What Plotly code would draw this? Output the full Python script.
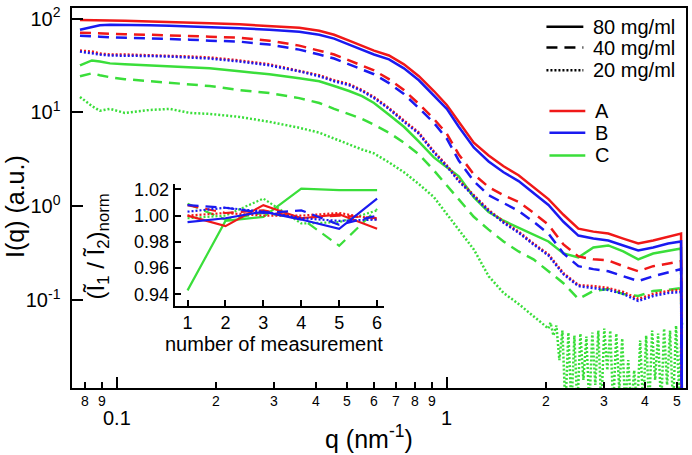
import math
import plotly.graph_objects as go

# scattering vector q (nm^-1), shared grid for the smooth curves
q = [0.0773, 0.0840, 0.0888, 0.0953, 0.1057, 0.1258, 0.1446, 0.1662, 0.1910, 0.2352,
     0.2899, 0.3571, 0.4106, 0.4556, 0.5057, 0.5535, 0.6017, 0.6680, 0.7414, 0.8230,
     0.9136, 1.000, 1.087, 1.207, 1.339, 1.486, 1.650, 1.831, 2.033, 2.257,
     2.505, 2.781, 3.086, 3.426, 3.803, 4.221, 4.685, 5.129, 5.16]

# I(q) for samples A, B, C at 80 / 40 / 20 mg/ml
A_80 = [96.9, 96.9, 96.9, 95.7, 94.6, 93.4, 92.3, 91.2, 89.0, 86.9, 83.7, 79.8, 74.2, 67.3, 58.2,
        51.5, 45.6, 40.4, 32.5, 24.3, 16.9, 12.0, 7.93, 4.76, 3.47, 2.66, 2.14, 1.60, 1.19, 0.81,
        0.575, 0.535, 0.51, 0.451, 0.40, 0.43, 0.474, 0.51, 0.006]
B_80 = [76.0, 81.7, 84.8, 85.8, 85.8, 84.8, 83.7, 82.7, 80.7, 78.8, 76.0, 72.4, 67.3, 61.1, 52.8,
        46.7, 41.4, 36.7, 29.5, 22.0, 15.3, 10.9, 7.02, 4.22, 3.00, 2.30, 1.85, 1.38, 1.03, 0.682,
        0.486, 0.451, 0.43, 0.381, 0.337, 0.363, 0.40, 0.42, 0.006]
C_80 = [31.7, 35.8, 34.9, 33.3, 32.5, 31.7, 30.9, 30.2, 29.5, 27.4, 25.5, 23.1, 21.5, 19.1, 16.9,
        14.9, 12.6, 9.41, 7.02, 4.88, 3.31, 2.60, 2.08, 1.25, 0.869, 0.699, 0.589, 0.498, 0.42, 0.313,
        0.284, 0.363, 0.381, 0.329, 0.271, 0.313, 0.337, 0.354, 0.006]
A_40 = [70.7, 69.8, 68.9, 68.9, 68.1, 67.3, 66.5, 65.7, 64.1, 62.6, 58.2, 51.5, 45.6, 41.4, 35.8,
        31.7, 28.0, 22.6, 17.3, 12.3, 8.53, 5.93, 3.56, 2.19, 1.60, 1.31, 1.11, 0.849, 0.634, 0.391,
        0.291, 0.271, 0.264, 0.229, 0.202, 0.229, 0.246, 0.258, 0.006]
B_40 = [65.7, 64.1, 64.1, 63.3, 62.6, 61.8, 61.1, 59.6, 58.2, 56.8, 52.8, 46.7, 41.4, 37.5, 32.5,
        28.7, 25.5, 20.5, 15.7, 11.1, 7.74, 5.25, 3.07, 1.85, 1.31, 1.08, 0.891, 0.682, 0.51, 0.313,
        0.229, 0.213, 0.202, 0.179, 0.159, 0.179, 0.197, 0.213, 0.006]
C_40 = [24.3, 26.1, 24.9, 23.7, 22.6, 21.5, 20.5, 20.0, 19.1, 17.3, 16.1, 14.2, 12.6, 10.9, 9.63,
        8.53, 7.37, 6.07, 4.76, 3.56, 2.41, 1.675, 1.19, 0.77, 0.562, 0.42, 0.329, 0.271, 0.202, 0.151,
        0.1025, 0.1245, 0.131, 0.1158, 0.1103, 0.1245, 0.128, 0.134, 0.006]
A_20 = [45.6, 44.5, 42.4, 41.4, 41.4, 40.9, 40.4, 39.4, 38.5, 35.8, 32.5, 28.0, 24.9, 22.0, 20.0,
        17.3, 14.6, 11.1, 8.12, 6.07, 3.83, 2.72, 1.89, 1.31, 0.913, 0.682, 0.535, 0.40, 0.306, 0.193,
        0.144, 0.1405, 0.134, 0.1215, 0.1025, 0.1158, 0.1245, 0.128, 0.006]
B_20 = [44.5, 42.4, 41.4, 40.4, 40.4, 39.9, 39.4, 38.5, 37.5, 34.9, 31.7, 27.4, 24.3, 21.5, 19.5,
        16.9, 14.2, 10.9, 7.93, 5.93, 3.74, 2.66, 1.85, 1.28, 0.891, 0.666, 0.522, 0.391, 0.298, 0.188,
        0.1405, 0.134, 0.128, 0.1158, 0.0976, 0.1103, 0.1187, 0.1215, 0.006]

# C at 20 mg/ml is very noisy at high q, it gets its own denser tail
q_C20_tail = [2.062, 2.105, 2.149, 2.194, 2.241, 2.288, 2.336, 2.386, 2.436, 2.488, 2.540, 2.594,
              2.649, 2.704, 2.761, 2.819, 2.879, 2.940, 3.001, 3.065, 3.129, 3.195, 3.263, 3.332,
              3.402, 3.474, 3.547, 3.622, 3.698, 3.776, 3.856, 3.937, 4.020, 4.105, 4.191, 4.280,
              4.370, 4.462, 4.556, 4.652, 4.750, 4.850, 4.953, 5.057, 5.164]
C_20_head = [14.6, 11.7, 10.4, 10.9, 9.87, 10.6, 10.9, 9.87, 9.63, 8.95, 7.93, 6.86, 6.07, 5.25, 4.54,
             4.02, 3.65, 2.93, 2.30, 1.72, 1.25, 0.829, 0.562, 0.346, 0.179, 0.1187, 0.0907, 0.0678, 0.0495]
C_20_tail = [0.0572, 0.0417, 0.0532, 0.0228, 0.0471, 0.007, 0.0449, 0.007, 0.0417, 0.007,
             0.0438, 0.014, 0.0407, 0.007, 0.0449, 0.0124, 0.0471, 0.007, 0.0495, 0.0178,
             0.0471, 0.007, 0.0438, 0.011, 0.0388, 0.007, 0.0228, 0.007, 0.0178, 0.007,
             0.037, 0.007, 0.0417, 0.007, 0.0471, 0.014, 0.0438, 0.007, 0.0495, 0.0124,
             0.0471, 0.007, 0.0532, 0.011, 0.0572]

# inset: normalised ratio vs number of measurement
n_meas = [1, 2, 3, 4, 5, 6]
r_A_80 = [1.000, 0.992, 1.008, 0.998, 1.001, 0.990]
r_A_40 = [1.008, 1.002, 1.004, 0.998, 1.000, 0.998]
r_A_20 = [1.000, 1.002, 1.000, 1.000, 1.002, 0.997]
r_B_80 = [0.995, 0.998, 1.003, 0.997, 0.990, 1.013]
r_B_40 = [1.008, 1.006, 1.002, 1.004, 0.993, 1.000]
r_B_20 = [1.003, 1.006, 1.003, 0.998, 0.996, 0.997]
r_C_80 = [0.943, 0.996, 0.999, 1.0205, 1.0195, 1.0195]
r_C_40 = [1.009, 0.997, 1.002, 0.998, 0.977, 1.005]
r_C_20 = [0.998, 1.000, 1.013, 0.994, 0.995, 1.004]

x_major_vals = [0.1, 1]
x_major_text = ['0.1', '1']
x_minor_vals = [0.08, 0.09, 0.2, 0.3, 0.4, 0.5, 0.6, 0.7, 0.8, 0.9, 2, 3, 4, 5]
x_minor_text = ['8', '9', '2', '3', '4', '5', '6', '7', '8', '9', '2', '3', '4', '5']

conc_names = ['80 mg/ml', '40 mg/ml', '20 mg/ml']
sample_names = ['A', 'B', 'C']

RED = '#f01818'
BLUE = '#1a1af0'
GREEN = '#3ade3a'
DASH = {'80 mg/ml': 'solid', '40 mg/ml': '11px,7px', '20 mg/ml': '2px,2px'}
COLOR = {'A': RED, 'B': BLUE, 'C': GREEN}
FONT = 'Liberation Sans, Arial, sans-serif'

fig = go.Figure()

# main curves, green first so red/blue sit on top
main = [
    (q, C_80, 'C', '80 mg/ml'), (q, C_40, 'C', '40 mg/ml'),
    (q[:29] + q_C20_tail, C_20_head + C_20_tail, 'C', '20 mg/ml'),
    (q, A_80, 'A', '80 mg/ml'), (q, A_40, 'A', '40 mg/ml'), (q, A_20, 'A', '20 mg/ml'),
    (q, B_80, 'B', '80 mg/ml'), (q, B_40, 'B', '40 mg/ml'), (q, B_20, 'B', '20 mg/ml'),
]
for xs, ys, s, conc in main:
    fig.add_trace(go.Scatter(x=xs, y=ys, mode='lines', showlegend=False, hoverinfo='skip',
                             line=dict(color=COLOR[s], width=2.5, dash=DASH[conc])))

inset = [
    (r_C_80, 'C', '80 mg/ml'), (r_C_40, 'C', '40 mg/ml'), (r_C_20, 'C', '20 mg/ml'),
    (r_A_80, 'A', '80 mg/ml'), (r_A_40, 'A', '40 mg/ml'), (r_A_20, 'A', '20 mg/ml'),
    (r_B_80, 'B', '80 mg/ml'), (r_B_40, 'B', '40 mg/ml'), (r_B_20, 'B', '20 mg/ml'),
]
for ys, s, conc in inset:
    fig.add_trace(go.Scatter(x=n_meas, y=ys, xaxis='x2', yaxis='y2', mode='lines',
                             showlegend=False, hoverinfo='skip',
                             line=dict(color=COLOR[s], width=2.2, dash=DASH[conc])))

# x labels: small digits under minor ticks, larger decade labels further down
# (log axis -> annotation x is given in log10 units)
annotations = []
for v, t in zip(x_minor_vals, x_minor_text):
    annotations.append(dict(text=t, xref='x', yref='paper', x=math.log10(v), y=-0.034,
                            xanchor='center', yanchor='middle', showarrow=False,
                            font=dict(size=14)))
for v, t in zip(x_major_vals, x_major_text):
    annotations.append(dict(text=t, xref='x', yref='paper', x=math.log10(v), y=-0.078,
                            xanchor='center', yanchor='middle', showarrow=False,
                            font=dict(size=20)))

annotations += [
    dict(text='I(q) (a.u.)', xref='paper', yref='paper', x=-0.094, y=0.477,
         xanchor='center', yanchor='middle', textangle=-90, showarrow=False,
         font=dict(size=25)),
    dict(text='q (nm<sup>-1</sup>)', xref='paper', yref='paper', x=0.484, y=-0.13,
         xanchor='center', yanchor='middle', showarrow=False, font=dict(size=25)),
    dict(text='number of measurement', xref='paper', yref='paper', x=0.3295, y=0.115,
         xanchor='center', yanchor='middle', showarrow=False, font=dict(size=20)),
    dict(text='(Ĩ<sub>1</sub> / Ĩ<sub>2</sub>)<sub>norm</sub>', xref='paper', yref='paper',
         x=0.042, y=0.372, xanchor='center', yanchor='middle', textangle=-90,
         showarrow=False, font=dict(size=24)),
]

# hand-made legend (plotly's own legend spaces rows too far apart at this font size)
shapes = []
conc_rows = [0.9505, 0.8958, 0.8359]
for conc, yy in zip(conc_names, conc_rows):
    shapes.append(dict(type='line', xref='paper', yref='paper', x0=0.7727, x1=0.8328,
                       y0=yy, y1=yy, line=dict(color='black', width=2.5, dash=DASH[conc])))
    annotations.append(dict(text=conc, xref='paper', yref='paper', x=0.8458, y=yy,
                            xanchor='left', yanchor='middle', showarrow=False,
                            font=dict(size=20)))
sample_rows = [0.7292, 0.6719, 0.6120]
for s, yy in zip(sample_names, sample_rows):
    shapes.append(dict(type='line', xref='paper', yref='paper', x0=0.7776, x1=0.8360,
                       y0=yy, y1=yy, line=dict(color=COLOR[s], width=2.5)))
    annotations.append(dict(text=s, xref='paper', yref='paper', x=0.8490, y=yy,
                            xanchor='left', yanchor='middle', showarrow=False,
                            font=dict(size=20)))

fig.update_layout(
    width=692, height=455,
    margin=dict(l=72, r=4, t=4, b=67),
    paper_bgcolor='white', plot_bgcolor='white',
    font=dict(family=FONT, color='black'),
    showlegend=False,
    xaxis=dict(type='log', range=[-1.136, 0.725], showgrid=False, zeroline=False,
               showline=True, linecolor='black', linewidth=2, mirror=True,
               tickmode='array', tickvals=x_major_vals, showticklabels=False,
               ticks='inside', ticklen=11, tickwidth=2, tickcolor='black',
               minor=dict(tickmode='array', tickvals=x_minor_vals, ticks='inside',
                          ticklen=6, tickwidth=2, tickcolor='black', showgrid=False)),
    yaxis=dict(type='log', range=[-1.939, 2.113], showgrid=False, zeroline=False,
               showline=True, linecolor='black', linewidth=2, mirror=True,
               tickmode='array', tickvals=[0.1, 1, 10, 100],
               ticktext=['10<sup>-1</sup>\u00a0', '10<sup>0</sup>\u00a0',
                         '10<sup>1</sup>\u00a0', '10<sup>2</sup>\u00a0'],
               ticks='inside', ticklen=11, tickwidth=2, tickcolor='black',
               tickfont=dict(size=20)),
    xaxis2=dict(domain=[0.1672, 0.508], anchor='y2', range=[0.66, 6.18],
                showgrid=False, zeroline=False, showline=True, linecolor='black', linewidth=2,
                tickmode='array', tickvals=n_meas, ticks='inside', ticklen=6, tickwidth=2,
                tickcolor='black', tickfont=dict(size=18)),
    yaxis2=dict(domain=[0.2161, 0.5365], anchor='x2', range=[0.9312, 1.024],
                showgrid=False, zeroline=False, showline=True, linecolor='black', linewidth=2,
                tickmode='array', tickvals=[0.94, 0.96, 0.98, 1.00, 1.02], tickformat='.2f',
                ticks='inside', ticklen=6, tickwidth=2, tickcolor='black',
                tickfont=dict(size=18)),
    shapes=shapes,
    annotations=annotations,
)

# drop the default 8px page margin so the figure sits at the window corner
fig.write_html("out.html", config={'displayModeBar': False},
               post_script="document.body.style.margin = '0px';")
